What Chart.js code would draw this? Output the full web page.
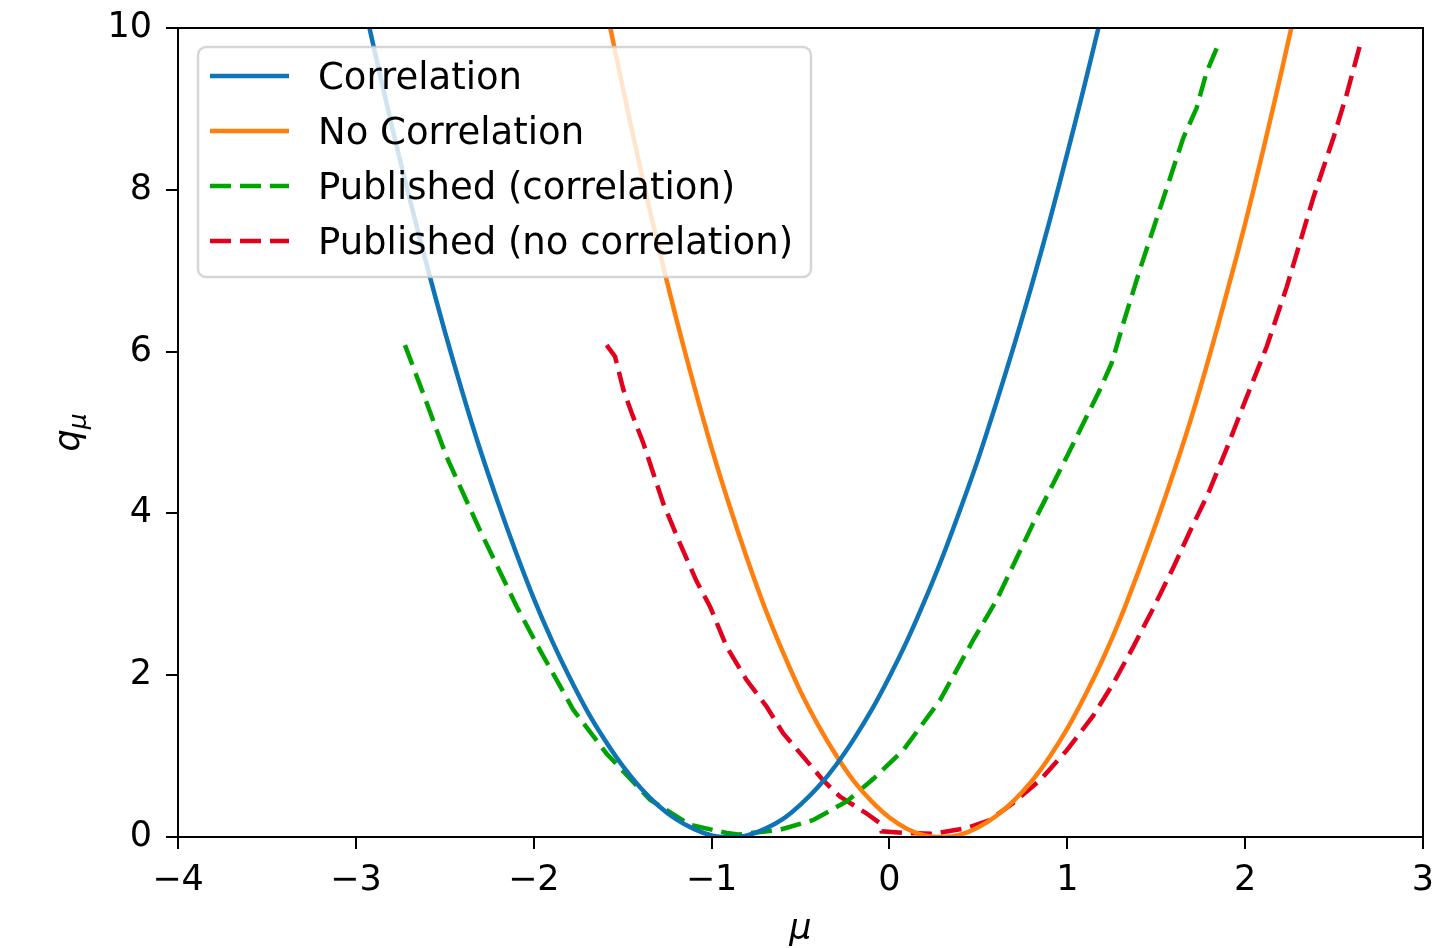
<!DOCTYPE html>
<html>
<head>
<meta charset="utf-8">
<script src="https://cdn.jsdelivr.net/npm/chart.js@4.4.1/dist/chart.umd.min.js"></script>
<style>
  html, body { margin: 0; padding: 0; background: #fff; }
  canvas { display: block; }
</style>
</head>
<body>
<canvas id="c" width="1450" height="948"></canvas>
<script>
// mu grid and q_mu values, one pair of arrays per curve
const corrMu = [-2.95, -2.9, -2.8, -2.7, -2.6, -2.5, -2.4, -2.3, -2.2, -2.1, -2.0, -1.9, -1.8, -1.7, -1.6, -1.5, -1.4, -1.3, -1.2, -1.1, -1.0,
  -0.9, -0.8, -0.7, -0.6, -0.5, -0.4, -0.3, -0.2, -0.1, 0.0, 0.1, 0.2, 0.3, 0.4, 0.5, 0.6, 0.7, 0.8, 0.9, 1.0, 1.1, 1.2];
const corrQ = [10.26, 9.77, 8.81, 7.91, 7.06, 6.25, 5.49, 4.78, 4.13, 3.52, 2.95, 2.44, 1.98, 1.56, 1.20, 0.88, 0.61, 0.39, 0.22, 0.10, 0.02,
  0.00, 0.02, 0.10, 0.22, 0.40, 0.62, 0.89, 1.21, 1.57, 1.98, 2.43, 2.93, 3.47, 4.06, 4.68, 5.36, 6.07, 6.82, 7.61, 8.45, 9.32, 10.23];

const noCorrMu = [-1.6, -1.5, -1.4, -1.3, -1.2, -1.1, -1.0, -0.9, -0.8, -0.7, -0.6, -0.5, -0.4, -0.3, -0.2, -0.1, 0.0, 0.1, 0.2, 0.3,
  0.4, 0.5, 0.6, 0.7, 0.8, 0.9, 1.0, 1.1, 1.2, 1.3, 1.4, 1.5, 1.6, 1.7, 1.8, 1.9, 2.0, 2.1, 2.2, 2.3];
const noCorrQ = [10.33, 9.27, 8.26, 7.31, 6.42, 5.59, 4.81, 4.10, 3.44, 2.83, 2.29, 1.80, 1.38, 1.01, 0.69, 0.44, 0.24, 0.10, 0.02, 0.00,
  0.03, 0.12, 0.26, 0.45, 0.69, 0.99, 1.34, 1.75, 2.20, 2.71, 3.28, 3.88, 4.52, 5.20, 5.95, 6.75, 7.58, 8.48, 9.42, 10.4];

const pubCorrMu = [-2.724, -2.621, -2.49, -2.302, -2.096, -1.965, -1.777, -1.59, -1.346, -1.121, -0.915, -0.85, -0.615, -0.428, -0.24,
  -0.09, 0.08, 0.284, 0.472, 0.603, 0.809, 0.997, 1.184, 1.25, 1.315, 1.409, 1.559, 1.652, 1.727, 1.784, 1.858];
const pubCorrQ = [6.08, 5.48, 4.70, 3.79, 2.85, 2.31, 1.57, 1.03, 0.46, 0.15, 0.05, 0.03, 0.09, 0.21, 0.44,
  0.72, 1.08, 1.69, 2.44, 2.93, 3.88, 4.70, 5.53, 5.86, 6.35, 7.02, 8.02, 8.64, 9.01, 9.46, 9.84];

const pubNoCorrMu = [-1.59, -1.543, -1.496, -1.449, -1.384, -1.271, -1.178, -1.084, -1.009, -0.915, -0.803, -0.69, -0.597, -0.484,
  -0.372, -0.278, -0.128, -0.053, -0.044, 0.097, 0.247, 0.434, 0.565, 0.696, 0.846, 0.997, 1.146, 1.259, 1.371, 1.484, 1.596, 1.69,
  1.793, 1.896, 2.009, 2.121, 2.234, 2.383, 2.496, 2.571, 2.646];
const pubNoCorrQ = [6.08, 5.94, 5.53, 5.24, 4.87, 4.12, 3.63, 3.16, 2.85, 2.35, 1.94, 1.61, 1.28, 0.99,
  0.70, 0.50, 0.29, 0.17, 0.07, 0.05, 0.04, 0.11, 0.21, 0.42, 0.70, 1.07, 1.50, 1.90, 2.35, 2.83, 3.33, 3.78,
  4.25, 4.80, 5.44, 6.06, 6.80, 7.90, 8.64, 9.18, 9.79];

const seriesNames = ['Correlation', 'No Correlation', 'Published (correlation)', 'Published (no correlation)'];
const xTickValues = [-4, -3, -2, -1, 0, 1, 2, 3];
const xTickLabels = ['\u22124', '\u22123', '\u22122', '\u22121', '0', '1', '2', '3'];
const yTickValues = [0, 2, 4, 6, 8, 10];
const yTickLabels = ['0', '2', '4', '6', '8', '10'];

const FONT = '"DejaVu Sans", sans-serif';
const toPoints = (xs, ys) => xs.map((x, i) => ({ x: x, y: ys[i] }));

// frame around the axes plus the y label (q with subscript mu) and x label
const framePlugin = {
  id: 'frame',
  afterDatasetsDraw(chart) {
    const { ctx, chartArea: a } = chart;
    ctx.save();
    ctx.strokeStyle = '#000';
    ctx.lineWidth = 2;
    ctx.strokeRect(a.left, a.top, a.right - a.left, a.bottom - a.top);

    ctx.fillStyle = '#000';
    ctx.font = 'oblique 35px ' + FONT;
    ctx.textAlign = 'center';
    ctx.textBaseline = 'alphabetic';
    ctx.fillText('\u03bc', (a.left + a.right) / 2, 939);

    // rotated y label
    ctx.translate(79, (a.top + a.bottom) / 2);
    ctx.rotate(-Math.PI / 2);
    ctx.textAlign = 'left';
    ctx.font = 'oblique 35px ' + FONT;
    const qw = ctx.measureText('q').width;
    ctx.font = 'oblique 25px ' + FONT;
    const mw = ctx.measureText('\u03bc').width;
    const x0 = -(qw + mw) / 2;
    ctx.font = 'oblique 35px ' + FONT;
    ctx.fillText('q', x0, 0);
    ctx.font = 'oblique 25px ' + FONT;
    ctx.fillText('\u03bc', x0 + qw, 7);
    ctx.restore();
  }
};

// legend box in the upper left, semi-transparent so curves show through
const legendPlugin = {
  id: 'boxLegend',
  afterDraw(chart) {
    const ctx = chart.ctx;
    const bx = 198, by = 47, bw = 613, bh = 230, r = 8;
    ctx.save();
    ctx.beginPath();
    ctx.roundRect(bx, by, bw, bh, r);
    ctx.fillStyle = 'rgba(255,255,255,0.8)';
    ctx.fill();
    ctx.strokeStyle = 'rgba(204,204,204,0.8)';
    ctx.lineWidth = 2.5;
    ctx.stroke();

    ctx.font = '37px ' + FONT;
    ctx.fillStyle = '#000';
    ctx.textAlign = 'left';
    ctx.textBaseline = 'alphabetic';
    chart.data.datasets.forEach((ds, i) => {
      const y = 76 + i * 55;
      ctx.beginPath();
      ctx.setLineDash(ds.borderDash || []);
      ctx.strokeStyle = ds.borderColor;
      ctx.lineWidth = ds.borderWidth;
      ctx.moveTo(210, y);
      ctx.lineTo(289, y);
      ctx.stroke();
      ctx.setLineDash([]);
      ctx.fillText(ds.label, 318, y + 13);
    });
    ctx.restore();
  }
};

const tickFont = { family: FONT, size: 35 };

new Chart(document.getElementById('c').getContext('2d'), {
  type: 'line',
  data: {
    datasets: [
      {
        label: seriesNames[0],
        data: toPoints(corrMu, corrQ),
        borderColor: '#0f74b5',
        borderWidth: 4.5,
        tension: 0.3,
        pointRadius: 0
      },
      {
        label: seriesNames[1],
        data: toPoints(noCorrMu, noCorrQ),
        borderColor: '#ff7f0e',
        borderWidth: 4.5,
        tension: 0.3,
        pointRadius: 0
      },
      {
        label: seriesNames[2],
        data: toPoints(pubCorrMu, pubCorrQ),
        borderColor: '#00a400',
        borderWidth: 4.5,
        borderDash: [21, 9],
        tension: 0,
        pointRadius: 0
      },
      {
        label: seriesNames[3],
        data: toPoints(pubNoCorrMu, pubNoCorrQ),
        borderColor: '#e2001c',
        borderWidth: 4.5,
        borderDash: [21, 9],
        tension: 0,
        pointRadius: 0
      }
    ]
  },
  options: {
    responsive: false,
    devicePixelRatio: 1,
    animation: false,
    layout: { padding: { left: 0, top: 28, right: 27, bottom: 0 } },
    plugins: {
      legend: { display: false },
      tooltip: { enabled: false }
    },
    scales: {
      x: {
        type: 'linear',
        min: -4,
        max: 3,
        afterBuildTicks: s => { s.ticks = xTickValues.map(v => ({ value: v })); },
        afterFit: s => { s.height = 111; s.paddingLeft = 0; s.paddingRight = 0; },
        ticks: {
          font: tickFont,
          color: '#000',
          padding: 11,
          maxRotation: 0,
          callback: v => xTickLabels[xTickValues.indexOf(v)]
        },
        grid: { drawOnChartArea: false, drawTicks: true, tickLength: 12, color: '#000', lineWidth: 2 },
        border: { display: true, color: '#000', width: 2 }
      },
      y: {
        min: 0,
        max: 10,
        afterBuildTicks: s => { s.ticks = yTickValues.map(v => ({ value: v })); },
        afterFit: s => { s.width = 178; s.paddingTop = 0; s.paddingBottom = 0; },
        ticks: {
          font: tickFont,
          color: '#000',
          padding: 14,
          callback: v => yTickLabels[yTickValues.indexOf(v)]
        },
        grid: { drawOnChartArea: false, drawTicks: true, tickLength: 12, color: '#000', lineWidth: 2 },
        border: { display: true, color: '#000', width: 2 }
      }
    }
  },
  plugins: [framePlugin, legendPlugin]
});
</script>
</body>
</html>
